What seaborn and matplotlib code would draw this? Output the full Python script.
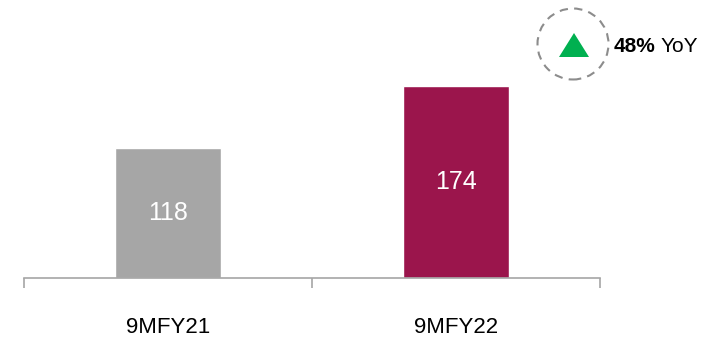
import matplotlib
matplotlib.use("Agg")
import matplotlib.pyplot as plt
import matplotlib.patches as mpatches
import seaborn as sns
import pandas as pd

# data
periods = ["9MFY21", "9MFY22"]
revenue = [118, 174]
bar_colors = ["#A6A6A6", "#9B154C"]
yoy_pct = "48%"

sns.set_style("white")
plt.rcParams["font.family"] = ["Liberation Sans", "DejaVu Sans"]
plt.rcParams["text.color"] = "black"
plt.rcParams["xtick.color"] = "black"

df = pd.DataFrame({"period": periods, "value": revenue})

fig = plt.figure(figsize=(7.23, 3.41), dpi=100)
ax = fig.add_axes([24 / 723, 63 / 341, 576 / 723, 278 / 341])

sns.barplot(data=df, x="period", y="value", hue="period",
            palette=bar_colors, width=0.37, legend=False, ax=ax,
            saturation=1)

for c in ax.containers:
    ax.bar_label(c, label_type="center", color="white", fontsize=18)

ax.set_xlim(-0.5, 1.5)
ax.set_ylim(0, 252)
ax.set_xlabel("")
ax.set_ylabel("")
ax.set_yticks([])
sns.despine(ax=ax, left=True, top=True, right=True)
ax.spines["bottom"].set_color("#A6A6A6")
ax.spines["bottom"].set_linewidth(1.2)

# category labels under, tick marks at boundaries
ax.set_xticks([0, 1])
ax.set_xticklabels(periods, fontsize=16)
ax.tick_params(axis="x", which="major", length=0, pad=28, colors="black")
ax.set_xticks([-0.5, 0.5, 1.5], minor=True)
ax.tick_params(axis="x", which="minor", length=7, width=1.2, color="#A6A6A6",
               direction="out", bottom=True)

# YoY badge (figure inches)
circ = mpatches.Circle((5.73, 2.97), 0.355, transform=fig.dpi_scale_trans,
                       fill=False, edgecolor="#8C8C8C", linewidth=1.5,
                       linestyle=(0, (4, 3)))
fig.add_artist(circ)
tri = mpatches.Polygon([(5.59, 2.84), (5.89, 2.84), (5.74, 3.08)],
                       closed=True, transform=fig.dpi_scale_trans,
                       facecolor="#00B050", edgecolor="none")
fig.add_artist(tri)
t1 = fig.text(614 / 723, 1 - 46 / 341, yoy_pct, fontsize=15, fontweight="bold",
              va="center", ha="left")
fig.canvas.draw()
bb = t1.get_window_extent()
fig.text((bb.x1 + 5) / 723, 1 - 46 / 341, "YoY", fontsize=15,
         va="center", ha="left")

fig.savefig("out.png", dpi=100)
